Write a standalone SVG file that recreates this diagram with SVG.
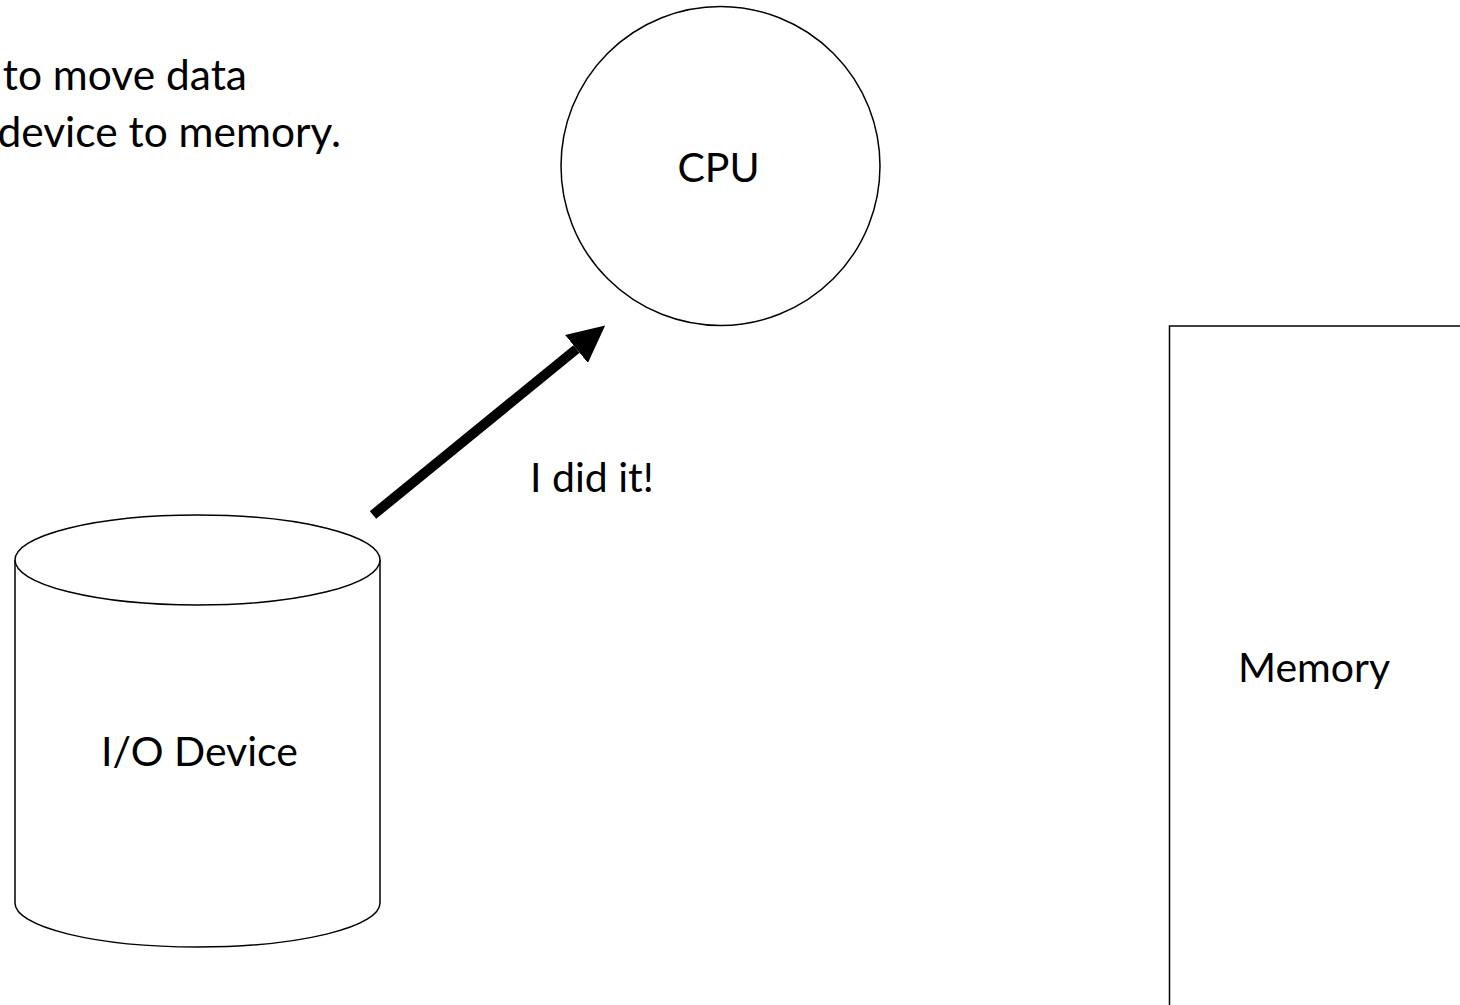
<svg xmlns="http://www.w3.org/2000/svg" width="1460" height="1005" viewBox="0 0 1460 1005">
  <style>
    .lbl { font-family: Lato, "Open Sans", "Liberation Sans", sans-serif; font-size: 41px; fill: #000; }
    .cap { font-size: 42.5px; }
    .shape { fill: #fff; stroke: #000; stroke-width: 1.5; }
  </style>
  <defs>
    <marker id="head" viewBox="0 0 37 36" refX="0" refY="18" markerWidth="37" markerHeight="36" markerUnits="userSpaceOnUse" orient="auto">
      <path d="M0,0 L37,18 L0,36 Z" fill="#000"/>
    </marker>
  </defs>
  <rect width="1460" height="1005" fill="#fff"/>

  <g id="caption">
    <text class="lbl cap" x="247" y="90" text-anchor="end">to move data</text>
    <text class="lbl cap" x="341" y="147" text-anchor="end">device to memory.</text>
  </g>

  <g id="cpu">
    <circle class="shape" cx="720.5" cy="166" r="159.5"/>
    <text class="lbl" x="718.5" y="182" text-anchor="middle">CPU</text>
  </g>

  <g id="io-device">
    <path class="shape" d="M15,560 L15,903 A182.5,44 0 0 0 380,903 L380,560"/>
    <ellipse class="shape" cx="197.5" cy="560" rx="182.5" ry="45"/>
    <text class="lbl" x="199.5" y="766" text-anchor="middle">I/O Device</text>
  </g>

  <g id="memory">
    <rect class="shape" x="1169.5" y="326" width="400" height="800" stroke="#333"/>
    <text class="lbl" x="1238" y="682">Memory</text>
  </g>

  <g id="connectors">
    <line x1="373" y1="515" x2="576.5" y2="349" stroke="#000" stroke-width="10" marker-end="url(#head)"/>
    <text class="lbl" x="530" y="492">I did it!</text>
  </g>
</svg>
